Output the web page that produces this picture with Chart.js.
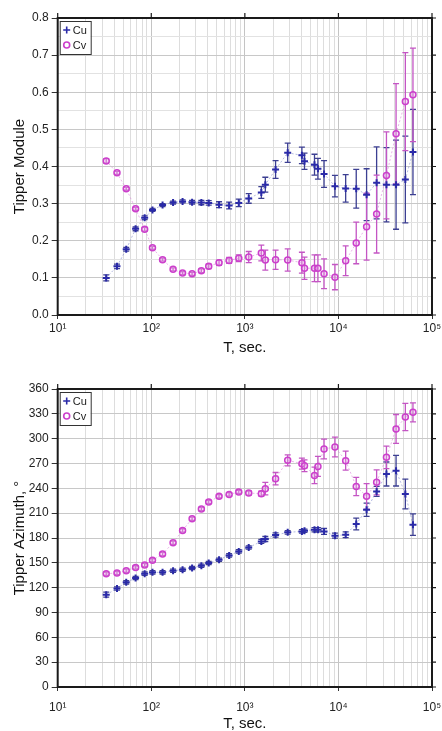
<!DOCTYPE html>
<html>
<head>
<meta charset="utf-8">
<script src="https://cdn.jsdelivr.net/npm/chart.js@4.4.1/dist/chart.umd.min.js"></script>
<style>
  html, body { margin: 0; padding: 0; background: #fff; }
  #wrap { position: relative; width: 442px; height: 731px; }
  canvas { position: absolute; left: 0; }
  #moduleChart { top: 0; }
  #azimuthChart { top: 365px; }
</style>
</head>
<body>
<div id="wrap">
  <canvas id="moduleChart" width="442" height="365"></canvas>
  <canvas id="azimuthChart" width="442" height="366"></canvas>
</div>
<script>
// periods, seconds
const periods = [33, 43, 54, 68, 85, 103, 132, 171, 216, 273, 343, 411, 530, 679, 861, 1100,
  1500, 1655, 2130, 2870, 4070, 4340, 5550, 6040, 7020, 9180, 11950, 15500, 20000, 25600,
  32600, 41300, 51900, 62600];

const cuModule = [0.100, 0.131, 0.177, 0.232, 0.262, 0.283, 0.296, 0.303, 0.306, 0.304, 0.303,
  0.302, 0.297, 0.295, 0.302, 0.314, 0.330, 0.351, 0.392, 0.437, 0.430, 0.414, 0.405, 0.394,
  0.380, 0.347, 0.341, 0.340, 0.324, 0.356, 0.351, 0.351, 0.365, 0.439];
const cuModuleErr = [0.008, 0.006, 0.005, 0.005, 0.005, 0.004, 0.004, 0.004, 0.004, 0.005, 0.006,
  0.006, 0.008, 0.009, 0.010, 0.013, 0.016, 0.020, 0.024, 0.026, 0.022, 0.022, 0.028, 0.028,
  0.036, 0.029, 0.037, 0.052, 0.070, 0.097, 0.100, 0.120, 0.117, 0.115];

const cvModule = [0.415, 0.383, 0.340, 0.286, 0.231, 0.181, 0.149, 0.123, 0.113, 0.111, 0.119,
  0.131, 0.141, 0.147, 0.153, 0.156, 0.167, 0.148, 0.149, 0.148, 0.141, 0.126, 0.126, 0.126,
  0.111, 0.102, 0.146, 0.194, 0.238, 0.272, 0.376, 0.488, 0.575, 0.593];
const cvModuleErr = [0.006, 0.004, 0.004, 0.004, 0.005, 0.004, 0.004, 0.004, 0.004, 0.004, 0.005,
  0.006, 0.007, 0.008, 0.009, 0.015, 0.021, 0.027, 0.026, 0.030, 0.028, 0.030, 0.036, 0.036,
  0.040, 0.034, 0.040, 0.056, 0.090, 0.105, 0.117, 0.135, 0.132, 0.126];

const cuAzimuth = [111.5, 119.0, 126.4, 131.6, 136.9, 138.5, 138.5, 140.5, 141.7, 143.7, 146.5,
  149.8, 153.8, 159.0, 163.8, 168.6, 175.9, 178.8, 183.6, 186.8, 188.0, 188.8, 190.0, 190.0,
  188.0, 182.8, 184.0, 196.9, 214.2, 236.3, 257.3, 261.3, 233.2, 196.1];
const cuAzimuthErr = [3, 2, 2, 2, 2, 2, 2, 2, 2, 2, 2, 2, 2, 2, 2, 2, 2.5, 3, 2.5, 2, 2, 2, 2.5,
  2.5, 3.5, 3, 3.5, 7, 8, 6, 14.5, 18.5, 18, 13];

const cvAzimuth = [136.9, 137.7, 140.5, 144.5, 147.4, 153.0, 160.7, 174.3, 189.2, 203.3, 215.0,
  223.5, 230.3, 232.7, 235.5, 234.3, 233.5, 239.6, 251.6, 273.8, 269.8, 267.3, 255.6, 266.5,
  287.5, 289.9, 273.4, 242.3, 230.3, 247.2, 277.4, 311.7, 326.2, 331.8];
const cvAzimuthErr = [2, 2, 2, 2, 2, 2, 2, 2, 2, 2, 2, 2, 2, 2, 2, 2.5, 3, 7.5, 7.5, 6.6, 6.6, 7,
  10, 12, 12, 12, 11.5, 11, 15.5, 15, 13.5, 17.5, 16.5, 11.5];

const decadeLabels = { 1: '10¹', 2: '10²', 3: '10³', 4: '10⁴', 5: '10⁵' };

const FONT = "'Liberation Sans', Arial, sans-serif";
const CU_COLOR = '#2a2aa8';
const CU_ERR = '#3c3f92';
const CV_COLOR = '#cc3fcc';
const CV_ERR = '#c455c4';

function isDecade(v) {
  const e = Math.log10(v);
  return Math.abs(e - Math.round(e)) < 1e-9;
}

function toPoints(values) {
  return values.map((v, i) => ({ x: periods[i], y: v }));
}

// error bars drawn under the markers
const errorBars = {
  id: 'errorBars',
  beforeDatasetsDraw(chart) {
    const ctx = chart.ctx;
    const xs = chart.scales.x;
    const ys = chart.scales.y;
    chart.data.datasets.forEach((ds) => {
      ctx.save();
      ctx.strokeStyle = ds.errColor;
      ctx.lineWidth = 1.3;
      ds.data.forEach((p, i) => {
        const px = xs.getPixelForValue(p.x);
        const top = ys.getPixelForValue(p.y + ds.errors[i]);
        const bot = ys.getPixelForValue(p.y - ds.errors[i]);
        ctx.beginPath();
        ctx.moveTo(px, top); ctx.lineTo(px, bot);
        ctx.moveTo(px - 3, top); ctx.lineTo(px + 3, top);
        ctx.moveTo(px - 3, bot); ctx.lineTo(px + 3, bot);
        ctx.stroke();
      });
      ctx.restore();
    });
  }
};

// black frame, outer ticks on top/right and the small legend box
const frame = {
  id: 'frame',
  afterDraw(chart) {
    const { ctx, chartArea: a } = chart;
    const xs = chart.scales.x;
    const ys = chart.scales.y;
    ctx.save();
    ctx.strokeStyle = '#1a1a1a';
    ctx.lineWidth = 2;
    ctx.strokeRect(a.left, a.top, a.right - a.left, a.bottom - a.top);
    ctx.lineWidth = 1.2;
    ctx.beginPath();
    xs.ticks.forEach((t) => {
      if (!isDecade(t.value)) return;
      const px = xs.getPixelForValue(t.value);
      ctx.moveTo(px, a.top); ctx.lineTo(px, a.top - 5);
    });
    ys.ticks.forEach((t) => {
      if (t.label === '') return;
      const py = ys.getPixelForValue(t.value);
      ctx.moveTo(a.right, py); ctx.lineTo(a.right + 4, py);
    });
    ctx.stroke();

    // legend
    const lx = a.left + 2;
    const ly = a.top + 3;
    ctx.fillStyle = '#fff';
    ctx.fillRect(lx, ly, 31, 33);
    ctx.lineWidth = 1;
    ctx.strokeStyle = '#333';
    ctx.strokeRect(lx + 0.5, ly + 0.5, 31, 33);
    ctx.font = '11px ' + FONT;
    ctx.textBaseline = 'middle';
    ctx.textAlign = 'left';
    chart.data.datasets.forEach((ds, i) => {
      const cy = ly + 9 + i * 15;
      const cx = lx + 7;
      ctx.strokeStyle = ds.pointBorderColor;
      ctx.lineWidth = 1.6;
      ctx.beginPath();
      if (ds.pointStyle === 'cross') {
        ctx.moveTo(cx - 3.5, cy); ctx.lineTo(cx + 3.5, cy);
        ctx.moveTo(cx, cy - 3.5); ctx.lineTo(cx, cy + 3.5);
      } else {
        ctx.arc(cx, cy, 3, 0, Math.PI * 2);
      }
      ctx.stroke();
      ctx.fillStyle = '#222';
      ctx.fillText(ds.label, lx + 13, cy + 0.5);
    });
    ctx.restore();
  }
};

function makeChart(canvasId, cfg) {
  return new Chart(document.getElementById(canvasId), {
    type: 'scatter',
    data: {
      datasets: [
        {
          label: 'Cu',
          data: toPoints(cfg.cu),
          errors: cfg.cuErr,
          errColor: CU_ERR,
          showLine: true,
          borderColor: 'rgba(120,130,200,0.55)',
          borderWidth: 1,
          borderDash: [2, 2],
          pointStyle: 'cross',
          pointRadius: 3.5,
          pointBorderWidth: 2,
          pointBorderColor: CU_COLOR,
          pointBackgroundColor: CU_COLOR,
        },
        {
          label: 'Cv',
          data: toPoints(cfg.cv),
          errors: cfg.cvErr,
          errColor: CV_ERR,
          showLine: true,
          borderColor: 'rgba(215,120,215,0.55)',
          borderWidth: 1,
          borderDash: [2, 2],
          pointStyle: 'circle',
          pointRadius: 3,
          pointBorderWidth: 1.5,
          pointBorderColor: CV_COLOR,
          pointBackgroundColor: 'rgba(230,170,230,0.35)',
        }
      ]
    },
    options: {
      responsive: false,
      animation: false,
      layout: { padding: { top: cfg.padTop, right: 10, left: 0, bottom: 0 } },
      plugins: {
        tooltip: { enabled: false },
        legend: { display: false }
      },
      scales: {
        x: {
          type: 'logarithmic',
          min: 10,
          max: 100000,
          afterBuildTicks(scale) {
            const ticks = [];
            for (let e = 1; e < 5; e++) {
              for (let m = 1; m < 10; m++) ticks.push({ value: m * Math.pow(10, e) });
            }
            ticks.push({ value: 100000 });
            scale.ticks = ticks;
          },
          afterFit(scale) {
            scale.height = cfg.xAxisHeight;
            scale.paddingLeft = 0;
            scale.paddingRight = 0;
          },
          border: { display: false },
          grid: {
            color: (ctx) => (ctx.tick && isDecade(ctx.tick.value) ? '#c4c4c4' : '#dddddd'),
            lineWidth: 1,
            tickLength: 4,
            tickColor: (ctx) => (ctx.tick && isDecade(ctx.tick.value) ? '#333' : 'rgba(0,0,0,0)'),
          },
          ticks: {
            autoSkip: false,
            maxRotation: 0,
            minRotation: 0,
            padding: cfg.xTickPad,
            color: '#222',
            font: { family: FONT, size: 12 },
            callback(value) {
              return isDecade(value) ? decadeLabels[Math.round(Math.log10(value))] : '';
            }
          },
          title: {
            display: true,
            text: 'T, sec.',
            color: '#111',
            font: { family: FONT, size: 15, lineHeight: 1 },
            padding: { top: 0, bottom: cfg.xTitlePad }
          }
        },
        y: {
          min: cfg.yMin,
          max: cfg.yMax,
          afterFit(scale) {
            scale.width = 57.7;
            scale.paddingTop = 0;
            scale.paddingBottom = 0;
          },
          border: { display: false },
          grid: {
            color: (ctx) => (ctx.tick && ctx.tick.label !== '' ? '#c8c8c8' : '#e2e2e2'),
            tickLength: 6,
            tickColor: (ctx) => (ctx.tick && ctx.tick.label !== '' ? '#333' : 'rgba(0,0,0,0)'),
          },
          ticks: {
            stepSize: cfg.yStep,
            padding: 3,
            color: '#222',
            font: { family: FONT, size: 12 },
            callback: cfg.yLabel,
          },
          title: {
            display: true,
            text: cfg.yTitle,
            color: '#111',
            font: { family: FONT, size: 15 },
            padding: { top: 11, bottom: 0 }
          }
        }
      }
    },
    plugins: [errorBars, frame]
  });
}

makeChart('moduleChart', {
  cu: cuModule, cuErr: cuModuleErr, cv: cvModule, cvErr: cvModuleErr,
  padTop: 18, xAxisHeight: 50, xTickPad: 2, xTitlePad: 10,
  yMin: 0, yMax: 0.8, yStep: 0.05,
  yTitle: 'Tipper Module',
  yLabel(v) {
    const k = Math.round(v * 100);
    return k % 10 === 0 ? (k / 100).toFixed(1) : '';
  }
});

makeChart('azimuthChart', {
  cu: cuAzimuth, cuErr: cuAzimuthErr, cv: cvAzimuth, cvErr: cvAzimuthErr,
  padTop: 24, xAxisHeight: 44, xTickPad: 9, xTitlePad: 0,
  yMin: 0, yMax: 360, yStep: 30,
  yTitle: 'Tipper Azimuth, °',
  yLabel(v) { return String(v); }
});
</script>
</body>
</html>
